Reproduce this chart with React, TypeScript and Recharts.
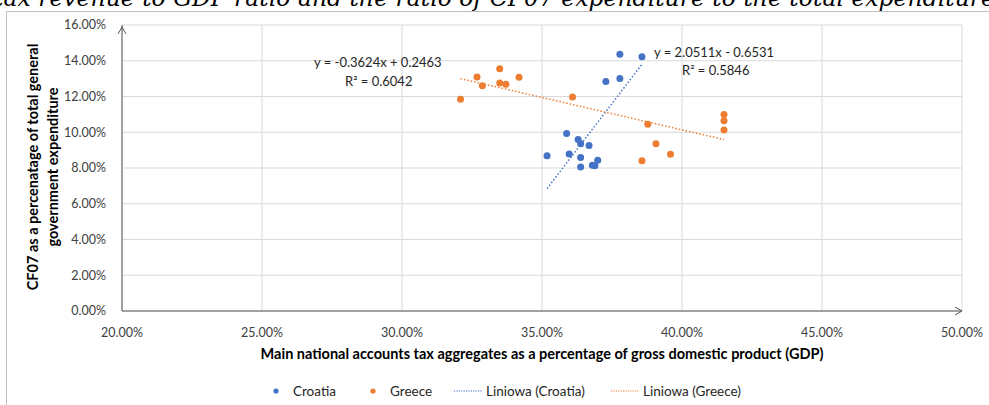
import { ComposedChart, Scatter, Line, XAxis, YAxis, CartesianGrid, ReferenceDot } from "recharts"

// values in percent
const croatiaX = [37.78, 38.57, 37.28, 37.78, 35.88, 36.29, 36.38, 36.68, 35.18, 35.97, 36.38, 36.99, 36.38, 36.8, 36.89]
const croatiaY = [14.37, 14.22, 12.84, 13.01, 9.93, 9.6, 9.36, 9.26, 8.69, 8.78, 8.59, 8.44, 8.06, 8.16, 8.12]
const greeceX = [32.09, 32.68, 32.87, 33.49, 33.49, 33.71, 34.18, 36.09, 38.78, 39.07, 38.57, 39.59, 41.5, 41.5, 41.5]
const greeceY = [11.84, 13.09, 12.6, 13.55, 12.75, 12.69, 13.07, 11.97, 10.45, 9.35, 8.4, 8.77, 11.0, 10.64, 10.12]

// trend line end points (from the fitted equations)
const croatiaTrend = [
  { x: 35.18, y: 6.85 },
  { x: 38.57, y: 13.8 },
]
const greeceTrend = [
  { x: 32.09, y: 13.0 },
  { x: 41.5, y: 9.59 },
]

const xTicks = [20, 25, 30, 35, 40, 45, 50]
const yTicks = [0, 2, 4, 6, 8, 10, 12, 14, 16]

const BLUE = "#4472c4"
const ORANGE = "#ed7d31"
const TXT = "#404040"
const FONT = "Lato, 'Open Sans', sans-serif"

const croatia = croatiaX.map((x, i) => ({ x, y: croatiaY[i] }))
const greece = greeceX.map((x, i) => ({ x, y: greeceY[i] }))

const pct = (v: number) => v.toFixed(2) + "%"

const dot = (color: string) => (p: any) => <circle cx={p.cx} cy={p.cy} r={3.5} fill={color} />

function LegendItem({ kind, color, label, left }: { kind: "dot" | "line"; color: string; label: string; left: number }) {
  return (
    <div style={{ position: "absolute", left, top: 382, display: "flex", alignItems: "center", height: 18 }}>
      {kind === "dot" ? (
        <svg width={21} height={18}>
          <circle cx={4} cy={9} r={2.6} fill={color} />
        </svg>
      ) : (
        <svg width={32} height={18}>
          <line x1={0} y1={9} x2={28} y2={9} stroke={color} strokeWidth={1.2} strokeDasharray="1.2 1.2" />
        </svg>
      )}
      <span style={{ fontSize: 13.5, color: "#262626" }}>{label}</span>
    </div>
  )
}

export default function App() {
  return (
    <div
      style={{
        position: "absolute",
        left: 0,
        top: 0,
        width: 989,
        height: 405,
        overflow: "hidden",
        background: "#fff",
        fontFamily: FONT,
      }}
    >
      <div
        style={{
          position: "absolute",
          left: -6,
          top: -15,
          whiteSpace: "nowrap",
          fontFamily: "'DejaVu Serif', serif",
          fontStyle: "italic",
          fontSize: 23.5,
          lineHeight: "26px",
          color: "#000",
        }}
      >
        tax revenue to GDP ratio and the ratio of CF07 expenditure to the total expenditure
      </div>
      <div
        style={{
          position: "absolute",
          left: 6,
          top: 11,
          width: 1000,
          height: 400,
          border: "1px solid #bfbfbf",
          background: "#fff",
        }}
      />

      <div style={{ position: "absolute", left: 0, top: 0 }}>
        <ComposedChart width={989} height={405} margin={{ top: 25, right: 27, bottom: 64, left: 62 }}>
          <CartesianGrid stroke="#d9d9d9" strokeWidth={1} />
          <XAxis
            type="number"
            dataKey="x"
            domain={[20, 50]}
            ticks={xTicks}
            tickFormatter={pct}
            height={30}
            tickLine={false}
            tickMargin={11}
            axisLine={{ stroke: "#595959" }}
            tick={{ fontSize: 12.5, fill: TXT, fontFamily: FONT }}
            allowDataOverflow
          />
          <YAxis
            type="number"
            dataKey="y"
            domain={[0, 16]}
            ticks={yTicks}
            tickFormatter={pct}
            width={60}
            tickLine={false}
            tickMargin={10}
            axisLine={{ stroke: "#595959" }}
            tick={{ fontSize: 12.5, fill: TXT, fontFamily: FONT }}
            allowDataOverflow
          />
          <Scatter name="Croatia" data={croatia} fill={BLUE} shape={dot(BLUE)} isAnimationActive={false} />
          <Scatter name="Greece" data={greece} fill={ORANGE} shape={dot(ORANGE)} isAnimationActive={false} />
          <Line
            name="Liniowa (Croatia)"
            data={croatiaTrend}
            dataKey="y"
            type="linear"
            stroke={BLUE}
            strokeWidth={1.5}
            strokeDasharray="1.5 2"
            dot={false}
            activeDot={false}
            isAnimationActive={false}
          />
          <Line
            name="Liniowa (Greece)"
            data={greeceTrend}
            dataKey="y"
            type="linear"
            stroke={ORANGE}
            strokeWidth={1.5}
            strokeDasharray="1.5 2"
            dot={false}
            activeDot={false}
            isAnimationActive={false}
          />
          <ReferenceDot
            x={50}
            y={0}
            ifOverflow="visible"
            shape={(p: any) => (
              <path d={`M${p.cx - 7},${p.cy - 4} L${p.cx},${p.cy} L${p.cx - 7},${p.cy + 4}`} fill="none" stroke="#595959" />
            )}
          />
          <ReferenceDot
            x={20}
            y={16}
            ifOverflow="visible"
            shape={(p: any) => (
              <path d={`M${p.cx - 4},${p.cy + 9} L${p.cx},${p.cy + 2} L${p.cx + 4},${p.cy + 9}`} fill="none" stroke="#595959" />
            )}
          />
        </ComposedChart>
      </div>

      {/* trend equations */}
      <div style={{ position: "absolute", left: 314, top: 54, fontSize: 13, color: "#262626", whiteSpace: "nowrap" }}>
        y = -0.3624x + 0.2463
      </div>
      <div style={{ position: "absolute", left: 345, top: 73, fontSize: 13, color: "#262626", whiteSpace: "nowrap" }}>
        R² = 0.6042
      </div>
      <div style={{ position: "absolute", left: 654, top: 44, fontSize: 13, color: "#262626", whiteSpace: "nowrap" }}>
        y = 2.0511x - 0.6531
      </div>
      <div style={{ position: "absolute", left: 682, top: 62, fontSize: 13, color: "#262626", whiteSpace: "nowrap" }}>
        R² = 0.5846
      </div>

      {/* axis titles */}
      <div
        style={{
          position: "absolute",
          left: 192,
          width: 700,
          top: 345,
          textAlign: "center",
          fontSize: 14.5,
          fontWeight: 700,
          color: "#000",
          whiteSpace: "nowrap",
        }}
      >
        Main national accounts tax aggregates as a percentage of gross domestic product (GDP)
      </div>
      <div
        style={{
          position: "absolute",
          left: 43,
          top: 167,
          width: 0,
          height: 0,
        }}
      >
        <div
          style={{
            position: "absolute",
            left: -150,
            top: -20,
            width: 300,
            textAlign: "center",
            transform: "rotate(-90deg)",
            fontSize: 14.5,
            fontWeight: 700,
            lineHeight: "20px",
            color: "#000",
            whiteSpace: "nowrap",
          }}
        >
          CF07 as a percenatage of total general
          <br />
          government expenditure
        </div>
      </div>

      <LegendItem kind="dot" color={BLUE} label="Croatia" left={272} />
      <LegendItem kind="dot" color={ORANGE} label="Greece" left={369} />
      <LegendItem kind="line" color={BLUE} label="Liniowa (Croatia)" left={454} />
      <LegendItem kind="line" color={ORANGE} label="Liniowa (Greece)" left={611} />
    </div>
  )
}
